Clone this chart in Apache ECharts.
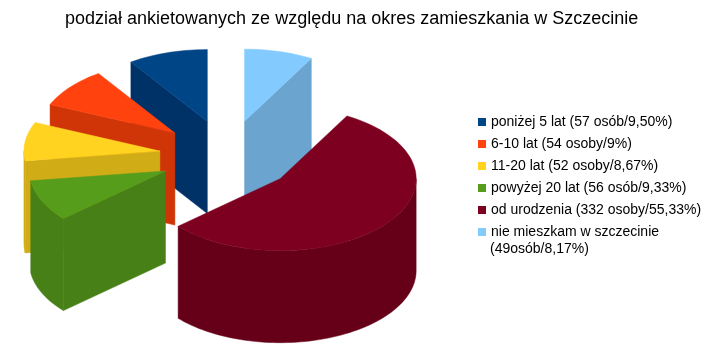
<!DOCTYPE html>
<html>
<head>
<meta charset="utf-8">
<style>
  * { margin: 0; padding: 0; }
  html, body { background: #fff; }
  #chart-container { width: 720px; height: 357px; overflow: hidden; }
</style>
<script src="https://cdn.jsdelivr.net/npm/echarts@6/dist/echarts.min.js"></script>
</head>
<body>
<div id="chart-container"></div>
<script>
  var titleText = 'podział ankietowanych ze względu na okres zamieszkania w Szczecinie'
  var categories = [
    'poniżej 5 lat (57 osób/9,50%)',
    '6-10 lat (54 osoby/9%)',
    '11-20 lat (52 osoby/8,67%)',
    'powyżej 20 lat (56 osób/9,33%)',
    'od urodzenia (332 osoby/55,33%)',
    'nie mieszkam w szczecinie',
  ]
  var lastCategorySecondLine = '(49osób/8,17%)'
  var counts = [57, 54, 52, 56, 332, 49]

  var topColors = ['#004586', '#ff420e', '#ffd320', '#579d1c', '#7e0021', '#83caff']
  var sideColors = ['#003268', '#cf3507', '#d0ac16', '#478017', '#660019', '#6aa4cf']
  var drawOrder = [2, 3, 4, 5, 6, 1]

  var explode = 0.5 // in radius units
  var depth = 1.278 // slice height, in y axis units
  var startAt = 90

  var total = counts.reduce(function (a, b) { return a + b }, 0)
  var startAngles = []
  var acc = startAt
  counts.forEach(function (c) {
    startAngles.push(acc)
    acc += (c / total) * 360
  })

  function rad(d) { return (d * Math.PI) / 180 }

  function renderSlice(index) {
    return function (params, api) {
      var a0 = api.value(1)
      var a1 = a0 + (api.value(0) / total) * 360
      var mid = (a0 + a1) / 2
      var ox = explode * Math.cos(rad(mid))
      var oy = explode * Math.sin(rad(mid))

      function pt(angle, r, drop) {
        return api.coord([ox + r * Math.cos(rad(angle)), oy + r * Math.sin(rad(angle)) - drop])
      }
      function poly(points, color) {
        return {
          type: 'polygon',
          shape: { points: points },
          style: { fill: color, stroke: color, lineWidth: 0.5 },
        }
      }
      function arc(from, to, drop) {
        var list = []
        var steps = Math.max(2, Math.ceil(Math.abs(to - from) / 2))
        for (var s = 0; s <= steps; s++) {
          list.push(pt(from + ((to - from) * s) / steps, 1, drop))
        }
        return list
      }

      var children = []
      // cut faces that look towards the viewer
      if (Math.sin(rad(a0 - 90)) < -0.01) {
        children.push(poly([pt(0, 0, 0), pt(a0, 1, 0), pt(a0, 1, depth), pt(0, 0, depth)], sideColors[index]))
      }
      if (Math.sin(rad(a1 + 90)) < -0.01) {
        children.push(poly([pt(0, 0, 0), pt(a1, 1, 0), pt(a1, 1, depth), pt(0, 0, depth)], sideColors[index]))
      }
      // outer wall, only the part on the front half
      var wallFrom = Math.max(a0, 180)
      var wallTo = Math.min(a1, 360)
      if (wallTo > wallFrom) {
        children.push(poly(arc(wallFrom, wallTo, 0).concat(arc(wallTo, wallFrom, depth)), sideColors[index]))
      }
      // top
      children.push(poly([pt(0, 0, 0)].concat(arc(a0, a1, 0)), topColors[index]))

      return { type: 'group', children: children }
    }
  }

  var chartDom = document.getElementById('chart-container')
  var myChart = echarts.init(chartDom, null, { renderer: 'canvas' })

  var option = {
    animation: false,
    backgroundColor: '#fff',
    title: {
      text: titleText,
      left: 60,
      top: 5,
      textStyle: {
        fontFamily: 'Liberation Sans',
        fontWeight: 'normal',
        fontSize: 18,
        color: '#000',
      },
    },
    legend: {
      orient: 'vertical',
      left: 478,
      top: 113,
      padding: 0,
      itemWidth: 8,
      itemHeight: 8,
      itemGap: 4,
      icon: 'rect',
      selectedMode: false,
      data: categories,
      textStyle: {
        fontFamily: 'Liberation Sans',
        fontSize: 14,
        lineHeight: 18,
        color: '#000',
      },
    },
    graphic: [
      {
        type: 'text',
        left: 490,
        top: 242,
        style: {
          text: lastCategorySecondLine,
          fontFamily: 'Liberation Sans',
          fontSize: 14,
          fill: '#000',
        },
      },
    ],
    grid: { left: 9.7, width: 435.2, top: 40.8, height: 302.4 },
    xAxis: { type: 'value', min: -1.6, max: 1.6, show: false },
    yAxis: { type: 'value', min: -2.6, max: 1.6, show: false },
    series: categories.map(function (name, i) {
      return {
        name: name,
        type: 'custom',
        z: drawOrder[i],
        silent: true,
        itemStyle: { color: topColors[i] },
        renderItem: renderSlice(i),
        data: [[counts[i], startAngles[i]]],
      }
    }),
  }
  myChart.setOption(option)
  window.addEventListener('resize', myChart.resize)
</script>
</body>
</html>
